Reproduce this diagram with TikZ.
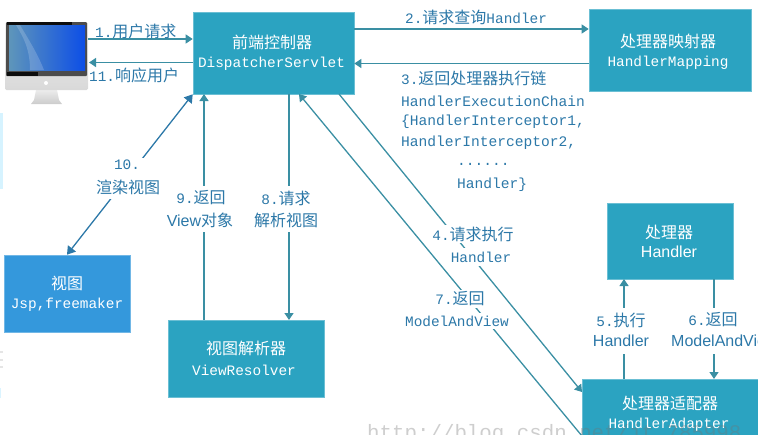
\documentclass[tikz,border=0pt]{standalone}
\usepackage{fontspec}
\setmainfont{Noto Sans CJK SC}
\newfontfamily\mono[Scale=0.9]{Liberation Mono}
\newfontfamily\sans{Liberation Sans}
\usetikzlibrary{arrows.meta,calc}
\definecolor{boxteal}{HTML}{2BA3C1}
\definecolor{boxblue}{HTML}{3498DC}
\definecolor{linkteal}{HTML}{3A8FA3}
\definecolor{labelblue}{HTML}{2C78A8}
\tikzset{
  boxnode/.style={draw=boxteal!70!white,line width=0.6pt,fill=boxteal,text=white,inner sep=0pt,align=center,font=\fontsize{16}{22}\selectfont},
  bluebox/.style={boxnode,fill=boxblue,draw=boxblue!70!white},
  boxtext/.style={text=white,inner sep=0pt,font=\fontsize{16}{22}\selectfont},
  link/.style={draw=linkteal,line width=1.3pt,-{Triangle[length=7pt,width=9pt]}},
  darklink/.style={draw=labelblue,line width=1.3pt,{Triangle[length=8pt,width=10pt]}-{Triangle[length=8pt,width=10pt]}},
  lab/.style={fill=white,text=labelblue,inner xsep=1pt,inner ysep=2pt,font=\fontsize{16}{20}\selectfont},
  nofill/.style={lab,fill=none},
  chainline/.style={nofill,anchor=west,font=\mono\fontsize{16.2}{20}\selectfont},
}
\begin{document}
\begin{tikzpicture}[x=1pt,y=-1pt]
\useasboundingbox (0,0) rectangle (758,434);
\clip (0,0) rectangle (758,434);
% stray fragments at the left edge
\fill[blue!30!cyan!16] (0,113) rectangle (3,189);
\fill[gray!20] (0,351) rectangle (3,353);
\fill[gray!20] (0,359) rectangle (3,361);
\fill[gray!20] (0,366) rectangle (3,368);
\fill[blue!30!cyan!14] (0,388) rectangle (1,398);
% monitor
\shade[top color=gray!15,bottom color=gray!40] (36,90) -- (57,90) -- (59,100) -- (62,104) -- (31,104) -- (34,100) -- cycle;
\shade[top color=gray!10,bottom color=gray!30,rounded corners=1.5pt] (5,22) rectangle (88,90);
\fill[black!70,rounded corners=1pt] (6,22) rectangle (87,76);
\fill[black!95] (7,72) rectangle (38,76);
\fill[black!95] (7,22) rectangle (72,25);
\shade[left color=blue!40!cyan!40!gray!90,right color=blue!70!cyan!90!black!95] (9,25) rectangle (85,70);
\fill[white,opacity=.18] (20,25) .. controls (32,45) and (38,55) .. (44,70) -- (30,70) .. controls (30,50) and (24,38) .. (16,25) -- cycle;
\fill[white] (46,83) circle (2);
% nodes
\node[boxnode,minimum width=161pt,minimum height=82pt] (ds) at (273.5,53) {};
\node[boxtext] (dsa) at (272,42) {前端控制器};
\node[boxtext] (dsb) at (271.5,64) {\mono DispatcherServlet};
\node[boxnode,minimum width=162pt,minimum height=82pt] (hm) at (670,50) {};
\node[boxtext] (hma) at (668,41) {处理器映射器};
\node[boxtext] (hmb) at (668,63) {\mono HandlerMapping};
\node[boxnode,minimum width=126pt,minimum height=76pt] (hd) at (670,241) {};
\node[boxtext] (hda) at (669,232) {处理器};
\node[boxtext] (hdb) at (669,252) {\sans Handler};
\node[boxnode,minimum width=196pt,minimum height=70pt,anchor=north west] (ha) at (582,379) {};
\node[boxtext] (haa) at (670,403) {处理器适配器};
\node[boxtext] (hab) at (669,425) {\mono HandlerAdapter};
\node[bluebox,minimum width=126pt,minimum height=77pt] (vw) at (67,293.5) {};
\node[boxtext] (vwa) at (67,283) {视图};
\node[boxtext] (vwb) at (67,305) {\mono Jsp,freemaker};
\node[boxnode,minimum width=156pt,minimum height=77pt] (vr) at (246,358.5) {};
\node[boxtext] (vra) at (246,348) {视图解析器};
\node[boxtext] (vrb) at (244,370) {\mono ViewResolver};
\coordinate (pc) at (88,39);
\coordinate (pcb) at (89,62.5);
% connectors with their labels on top
\draw[link] (pc) -- (pc-|ds.west);
\draw[link] (ds.west|-pcb) -- (pcb);
\draw[link] (ds.east|-0,29) -- (hm.west|-0,29);
\draw[link] (hm.west|-0,63.5) -- (ds.east|-0,63.5);
\draw[darklink] (vw.north) -- (ds.south west);
\draw[link] (204,320) -- (204,94);
\draw[link] (289,94) -- (289,320);
\draw[link] (339,94) -- (582,392);
\node[lab] (l4a) at (473,234) {{\mono 4.}请求执行};
\node[lab,inner ysep=4pt] (l4b) at (481,257) {\mono Handler};
\draw[link] (582,436) -- (299,94);
\node[lab] (l7a) at (460,299) {{\mono 7.}返回};
\node[lab,inner ysep=3pt] (l7b) at (457,321) {\mono ModelAndView};
\draw[link] (624,379) -- (624,279);
\draw[link] (714,279) -- (714,379);
% other labels
\node[nofill,anchor=west] (l1) at (94,31) {{\mono 1.}用户请求};
\node[nofill,anchor=west] (l11) at (88,75) {{\mono 11.}响应用户};
\node[nofill,anchor=west] (l2) at (404,17) {{\mono 2.}请求查询{\mono Handler}};
\node[nofill,anchor=west] (l3) at (400,78) {{\mono 3.}返回处理器执行链};
\node[chainline] (c1) at (400,101) {HandlerExecutionChain};
\node[chainline] (c2) at (400,122) {\{HandlerInterceptor1,};
\node[chainline] (c3) at (400,143) {HandlerInterceptor2,};
\node[chainline] (c4) at (456,164) {......};
\node[chainline] (c5) at (456,185) {Handler\}};
\node[lab,minimum width=66pt,minimum height=41pt] (l10bg) at (128,178.5) {};
\node[nofill] (l10a) at (127,165) {\mono 10.};
\node[nofill] (l10b) at (128,187) {渲染视图};
\node[lab,fill=white,minimum width=66pt,minimum height=46pt] (l9bg) at (200,209) {};
\node[nofill] (l9a) at (201,198) {{\mono 9.}返回};
\node[nofill] (l9b) at (200,220) {{\sans View}对象};
\node[lab,fill=white,minimum width=66pt,minimum height=46pt] (l8bg) at (286,209) {};
\node[nofill] (l8a) at (286,198) {{\mono 8.}请求};
\node[nofill] (l8b) at (286,220) {解析视图};
\node[lab,minimum width=58pt,minimum height=46pt] (l5bg) at (621,330.5) {};
\node[nofill] (l5a) at (621,320) {{\mono 5.}执行};
\node[nofill] (l5b) at (621,341) {\sans Handler};
\node[lab,anchor=west,minimum width=88pt,minimum height=46pt] (l6bg) at (670,330.5) {};
\node[nofill] (l6a) at (713,320) {{\mono 6.}返回};
\node[nofill,anchor=west] (l6b) at (670,341) {\sans ModelAndView};
% watermark
\node[text=black!55,opacity=.35,anchor=base west,inner sep=0pt,font=\mono\fontsize{23.1}{23}\selectfont] (wm) at (367,439) {http://blog.csdn.net/jt\_785998};
\end{tikzpicture}
\end{document}
